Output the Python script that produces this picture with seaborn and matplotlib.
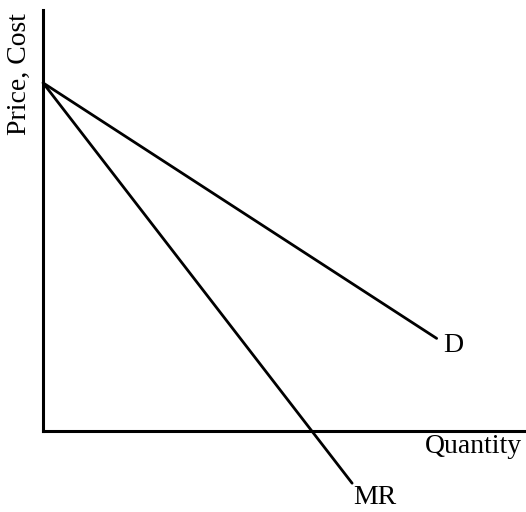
import matplotlib
matplotlib.use("Agg")
import matplotlib.pyplot as plt
import seaborn as sns
import pandas as pd

# demand and marginal revenue curves (quantity, price)
quantity_d = [0.0, 8.15]
price_d = [8.27, 2.2]
quantity_mr = [0.0, 6.4]
price_mr = [8.27, -1.24]

sns.set_style("white")
plt.rcParams['font.family'] = ['Liberation Serif', 'DejaVu Serif']
plt.rcParams['text.color'] = 'black'

fig = plt.figure(figsize=(5.26, 5.12), dpi=100)
ax = fig.add_axes([43 / 526, 81 / 512, 483 / 526, 421 / 512])

d_df = pd.DataFrame({"q": quantity_d, "p": price_d})
mr_df = pd.DataFrame({"q": quantity_mr, "p": price_mr})
sns.lineplot(data=d_df, x="q", y="p", color="black", linewidth=2, ax=ax)
sns.lineplot(data=mr_df, x="q", y="p", color="black", linewidth=2, ax=ax, clip_on=False)

ax.set_xlim(0, 10)
ax.set_ylim(0, 10)
ax.set_xticks([])
ax.set_yticks([])
ax.set_xlabel("")
ax.set_ylabel("")
sns.despine(ax=ax)
for side in ["left", "bottom"]:
    ax.spines[side].set_color("black")
    ax.spines[side].set_linewidth(2.2)

fs = 20
ax.text(8.28, 2.04, "D", fontsize=fs, ha="left", va="center", color="black")
ax.text(6.87, -1.57, "MR", fontsize=fs, ha="center", va="center", clip_on=False, color="black")
ax.text(8.92, -0.38, "Quantity", fontsize=fs, ha="center", va="center", clip_on=False, color="black")
ax.text(-0.48, 8.48, "Price, Cost", fontsize=fs, ha="center", va="center",
        rotation=90, clip_on=False, color="black")

fig.savefig("out.png", dpi=100, facecolor="white")
